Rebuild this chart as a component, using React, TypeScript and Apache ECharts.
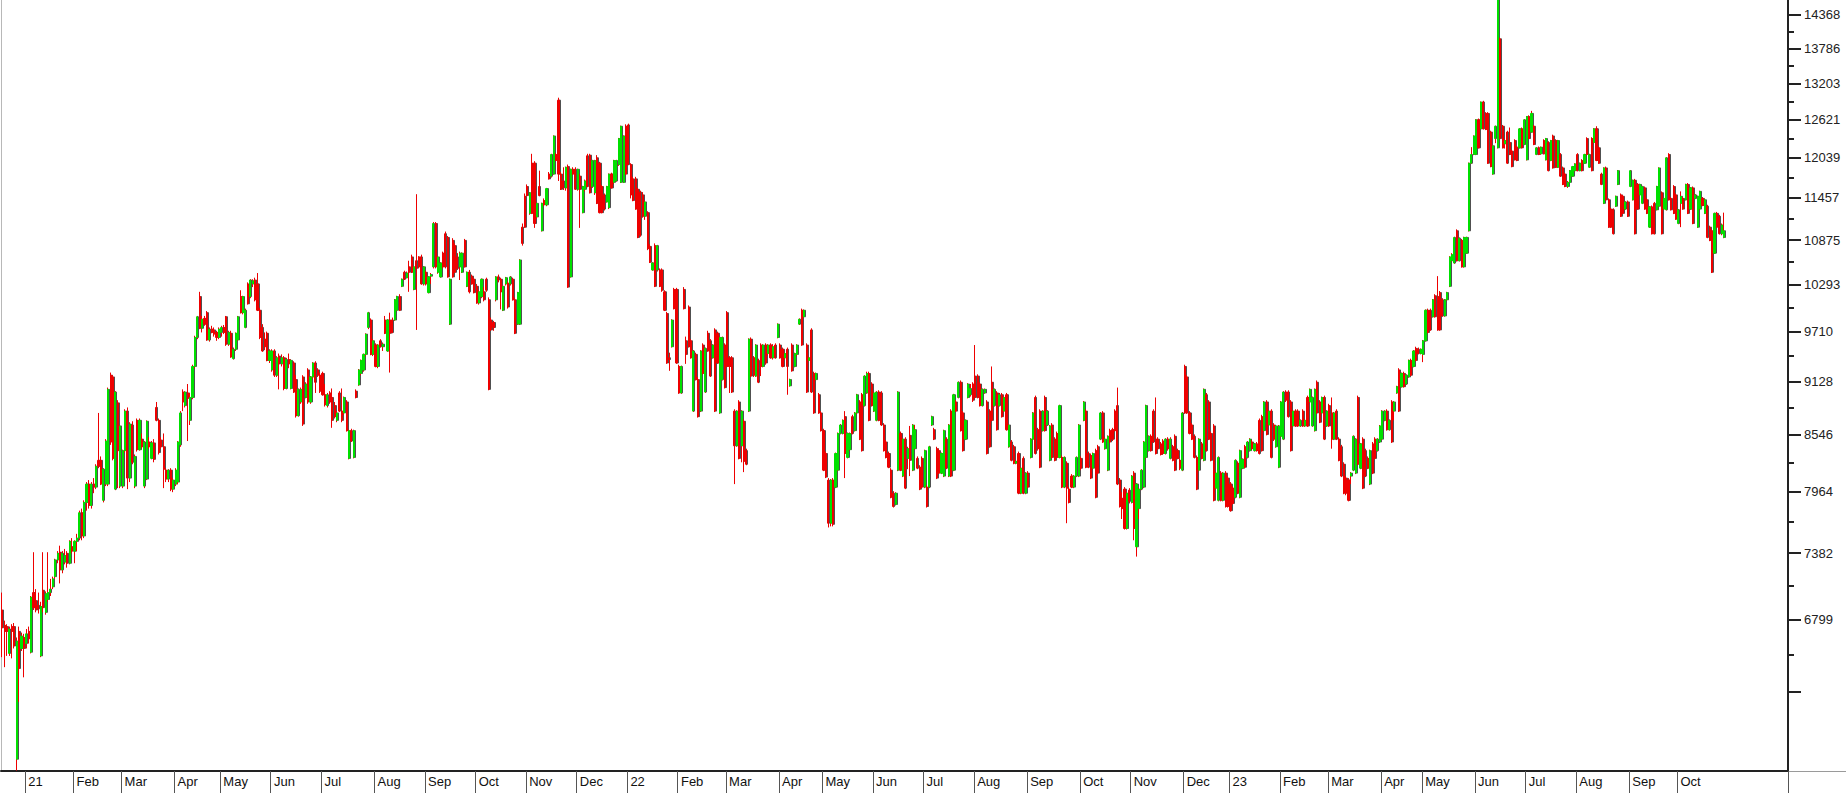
import React, { useEffect, useRef } from "react";
import * as echarts from "echarts";

// Daily candles, each row = [open, high, low, close]
const dec2020 = [[6880,7030,6490,6730],[6750,6790,6410,6700],[6740,6760,6500,6700],[6520,6740,6500,6720],[6740,6760,6480,6700],[6740,6770,6560,6580],[5720,6650,5640,6620],[6700,6740,6140,6400],[6560,6690,6540,6660],[6650,6680,6330,6560]];
const jan2021 = [[6600,6720,6560,6680],[6700,6740,6600,6640],[6530,7000,6520,6990],[7030,7390,6880,6900],[6960,7060,6860,6880],[6920,7030,6850,6890],[6500,6950,6490,6910],[7050,7390,6860,6900],[6860,7040,6840,7020],[6970,7390,6950,7030],[7030,7150,7000,7060],[7080,7170,7060,7150],[7170,7330,7150,7320],[7320,7400,7290,7380],[7390,7450,7110,7230],[7230,7400,7200,7380],[7300,7420,7280,7360],[7380,7400,7250,7290],[7290,7500,7280,7490],[7440,7520,7380,7400]];
const feb2021 = [[7400,7500,7290,7490],[7490,7560,7400,7520],[7520,7780,7500,7760],[7760,7800,7500,7540],[7540,7880,7520,7860],[7860,8060,7780,8040],[8040,8080,7800,7830],[7830,8060,7800,8040],[8040,8100,7950,8010],[8010,8240,7990,8220],[8280,8780,8200,8220],[8280,8320,8030,8040],[7880,8200,7860,8190],[8040,8500,8020,8480],[8040,9060,8020,9040],[9200,9230,8440,8470],[9180,9200,8280,8300],[7990,9020,7980,9010],[8890,8920,8000,8380],[8020,8650,8000,8640]];
const mar2021 = [[8020,8390,8000,8380],[8380,8820,8360,8800],[8800,8840,7990,8100],[8100,8680,8060,8660],[8650,8690,8240,8260],[8020,8340,8000,8320],[8700,8720,8370,8390],[8390,8720,8380,8700],[8500,8560,8400,8420],[8020,8480,8000,8470],[8090,8700,8080,8690],[8470,8520,8400,8420],[8300,8480,8290,8460],[8460,8500,8260,8290],[8840,8900,8690,8700],[8700,8720,8340,8360],[8490,8520,8400,8420],[8420,8560,8000,8190],[8180,8200,8060,8090],[8090,8190,8060,8180],[8180,8200,7970,7990],[7990,8100,7960,8080]];
const apr2021 = [[8040,8200,8020,8180],[8060,8480,8040,8470],[8440,8800,8420,8780],[9010,9040,8800,8900],[8860,9020,8840,9010],[9000,9100,8480,8940],[8700,9000,8650,8950],[8950,9320,8930,9300],[9300,9660,9280,9640],[9640,9900,9620,9890],[10140,10200,9740,9750],[9750,9900,9700,9860],[9870,9900,9780,9800],[9940,9960,9600,9610],[9610,9760,9590,9740],[9740,9780,9690,9700],[9730,9760,9650,9680],[9700,9720,9600,9640],[9640,9760,9620,9740]];
const may2021 = [[9700,9780,9650,9760],[9760,9790,9680,9700],[9890,9900,9540,9560],[9560,9720,9540,9700],[9690,9720,9400,9410],[9390,9520,9380,9500],[9500,9700,9480,9690],[9610,9900,9600,9890],[10140,10220,9930,9940],[9940,10150,9920,10140],[9760,9990,9750,9970],[10300,10320,10040,10050],[10140,10360,10120,10350],[10300,10360,10260,10340],[10350,10380,10080,10100],[10300,10440,9960,9970],[9970,10000,9620,9640],[9760,9800,9470,9480],[9620,9700,9490,9530],[9690,9710,9360,9370],[9370,9500,9340,9480]];
const jun2021 = [[9260,9500,9240,9480],[9480,9500,9180,9200],[9200,9420,9180,9400],[9420,9450,9040,9330],[9330,9440,9300,9400],[9400,9420,9030,9050],[9050,9400,9040,9380],[9380,9450,9280,9330],[9050,9380,9040,9370],[9340,9360,9000,9010],[9150,9200,8730,8750],[8750,9050,8740,9040],[8900,9060,8880,9040],[9180,9200,8640,8660],[8950,9120,8940,9100],[9260,9280,8880,8900],[8900,9190,8880,9180],[9180,9350,9160,9340],[9340,9360,9000,9120],[9260,9280,9180,9200],[9200,9230,9000,9020]];
const jul2021 = [[9220,9240,8970,8980],[8980,9100,8850,8870],[8860,9000,8840,8980],[9000,9020,8880,8900],[8950,9050,8620,8700],[8860,8900,8720,8740],[8700,8800,8680,8780],[9000,9020,8790,8800],[8800,9050,8680,8700],[8780,8960,8760,8950],[8900,8920,8580,8590],[8300,8600,8290,8590],[8590,8610,8470,8480],[8310,8600,8300,8590],[9020,9040,8940,8950],[9090,9270,9080,9260],[9220,9380,9200,9370],[9260,9450,9240,9440],[9440,9690,9420,9680],[9760,9950,9740,9940],[9850,9870,9430,9440],[9440,9620,9420,9600]];
const aug2021 = [[9550,9570,9290,9300],[9300,9560,9280,9550],[9600,9620,9520,9530],[9530,9580,9480,9560],[9850,9900,9680,9690],[9480,9860,9470,9850],[9850,9940,9230,9690],[9850,9880,9690,9700],[9850,10110,9840,10100],[9970,10150,9960,10140],[10140,10170,9960,9970],[10270,10370,10260,10360],[10450,10470,10350,10360],[10380,10460,10370,10440],[10520,10600,10200,10450],[10650,10680,10440,10450],[10230,10530,10220,10520],[10600,11510,9730,10500],[10650,10660,10500,10520],[10650,10680,10290,10300],[10300,10530,10280,10520]];
const sep2021 = [[10450,10470,10280,10300],[10190,10400,10180,10390],[10400,10440,10300,10420],[10520,11120,10500,11100],[11100,11120,10500,10520],[10450,10660,10430,10650],[10390,10580,10380,10570],[10700,10720,10500,10520],[10960,10990,10500,10520],[10910,10930,10380,10390],[9800,10370,9790,10360],[10870,10900,10380,10390],[10800,10830,10440,10450],[10650,10700,10480,10500],[10520,10720,10350,10700],[10450,10710,10440,10700],[10870,10890,10510,10520],[10270,10460,10260,10450],[10450,10480,10180,10200],[10400,10420,10290,10300],[10360,10380,10180,10190]];
const oct2021 = [[10270,10300,10050,10060],[10060,10220,10040,10200],[10140,10370,10120,10360],[10200,10260,10080,10100],[10360,10380,10200,10220],[10100,10130,9030,9040],[9850,9880,9720,9730],[9820,9840,9720,9760],[10100,10400,10080,10390],[10390,10420,10320,10350],[10360,10380,9980,10200],[9970,10280,9960,10270],[10300,10390,10280,10380],[10310,10330,9990,10010],[10300,10400,10280,10390],[10360,10380,10090,10100],[10100,10130,9680,9690],[9800,10200,9790,10190],[9800,10620,9790,10610],[11050,11100,10800,10830],[11480,11520,11040,11050]];
const nov2021 = [[11620,11650,11480,11490],[11240,11540,11220,11530],[11960,12100,11230,11240],[11960,11990,11040,11100],[11190,11390,11170,11380],[11620,11850,11480,11490],[11000,11390,10990,11380],[11420,11450,11340,11360],[11360,11600,11340,11590],[11800,11830,11720,11730],[11770,12100,11750,12090],[11800,12380,11790,12370],[12090,12110,11990,12000],[12930,12970,11700,11800],[11800,11830,11570,11580],[11700,11900,11570,11600],[11600,11910,11560,11900],[11910,11940,10250,10260],[10390,11880,10380,11870],[11870,11900,11790,11800],[11870,11900,11570,11580]];
const dec2021 = [[11580,11880,11560,11870],[11770,11800,11040,11580],[11250,11630,11240,11620],[11580,11720,11550,11700],[12070,12100,11610,11620],[12080,12100,11520,11530],[11620,12010,11600,12000],[11530,12010,11500,12000],[12040,12080,11370,11380],[11960,11980,11240,11250],[11620,11640,11240,11250],[11500,11520,11280,11300],[11400,11630,11390,11620],[11320,11810,11300,11800],[11800,11820,11590,11600],[11680,12010,11660,12000],[11700,12010,11690,12000],[11940,12340,11920,12330],[11680,12530,11670,12520],[11680,12380,11670,12370],[12520,12550,11790,11800]];
const jan2022 = [[12540,12560,11930,11940],[11940,11960,11450,11500],[11730,11760,11410,11420],[11730,11760,11290,11300],[11580,11600,10900,10910],[11540,11560,10920,10940],[11500,11540,11180,11200],[11200,11420,11150,11400],[11250,11270,10740,10760],[10790,10820,10570,10580],[10480,10580,10470,10570],[10800,10830,10260,10270],[10480,10810,10460,10800],[10480,10500,10260,10270],[10480,10500,10200,10220],[10200,10220,9960,9970],[9930,9950,9330,9340],[9400,9460,9250,9380],[9530,9860,9520,9850],[10230,10250,9980,9990],[10230,10250,9330,9340]];
const feb2022 = [[9300,9320,8990,9000],[9000,9310,8990,9300],[10230,10260,9980,9990],[9600,9650,9330,9440],[10010,10030,9520,9530],[9600,9620,9390,9400],[8800,9490,8790,9480],[9440,9460,9140,9150],[9150,9180,8730,8740],[8800,9490,8790,9480],[9550,9570,9210,9220],[9010,9520,9000,9510],[9690,9720,9470,9480],[9600,9620,9180,9190],[9400,9560,9390,9550],[9730,9750,8790,8800],[9690,9710,9330,9340],[8780,9650,8770,9640],[9150,9650,9140,9640],[9550,9570,9050,9060]];
const mar2022 = [[9940,9960,9290,9300],[9400,9420,9000,9300],[9400,9420,9000,9010],[8800,8820,8040,8430],[8430,8810,8420,8800],[8900,8920,8290,8300],[8430,8810,8260,8800],[8690,8710,8160,8270],[8380,8400,8230,8240],[8800,9630,8790,9620],[9620,9640,9180,9190],[9400,9420,9180,9200],[9190,9560,9180,9550],[9370,9390,9110,9120],[9550,9570,9190,9300],[9300,9560,9290,9550],[9550,9570,9320,9340],[9450,9560,9430,9550],[9550,9570,9390,9400],[9400,9560,9380,9530],[9550,9570,9390,9400],[9640,9810,9630,9800]];
const apr2022 = [[9550,9570,9390,9400],[9500,9520,9290,9300],[9400,9460,9380,9450],[9500,9520,8980,9300],[9080,9160,9070,9150],[9550,9570,9240,9250],[9300,9460,9290,9450],[9440,9560,9420,9550],[9800,9870,9790,9860],[9970,9990,9540,9550],[9890,9980,9880,9970],[9550,9570,9000,9010],[9370,9410,9360,9400],[9730,9750,9000,9010],[9220,9240,8770,8780],[9150,9230,9140,9220],[8980,9000,8770,8780],[8780,8800,8580,8590]];
const may2022 = [[8590,8610,8170,8180],[8350,8370,8100,8110],[8080,8100,7620,7660],[7660,8090,7630,8080],[8080,8100,7630,7650],[8010,8360,8000,8350],[8180,8570,8170,8560],[8560,8660,8550,8650],[8560,8710,8550,8700],[8740,8800,8100,8350],[8310,8570,8300,8560],[8390,8570,8380,8560],[8740,8760,8550,8560],[8590,8790,8580,8780],[8780,8990,8770,8980],[8900,8920,8490,8500],[8980,9000,8370,8380],[8860,9200,8850,9190],[9000,9240,8990,9220],[9220,9240,8690,8700],[9100,9120,8850,8860]];
const jun2022 = [[8800,9010,8790,9000],[8700,9020,8690,9010],[9010,9030,8690,8700],[9000,9020,8640,8650],[8650,8670,8370,8380],[8470,8490,8300,8310],[8350,8370,8200,8210],[8180,8200,7900,7910],[7950,7970,7810,7820],[7840,7960,7830,7950],[8180,9020,8170,9010],[8560,8580,8170,8180],[8120,8510,8110,8500],[8500,8520,7990,8000],[8300,8420,8190,8400],[8540,8640,8120,8280],[8180,8660,8170,8650],[8400,8650,8390,8600],[8300,8320,8190,8200],[8210,8230,7980,7990],[8300,8320,8000,8010]];
const jul2022 = [[8010,8390,8000,8380],[8010,8030,7810,7820],[8010,8430,8000,8420],[8650,8750,8640,8740],[8600,8620,8490,8500],[8400,8420,8090,8100],[8380,8400,8140,8150],[8150,8360,8140,8350],[8120,8600,8110,8590],[8500,8520,8190,8200],[8120,8660,8110,8650],[8800,8820,8110,8120],[8180,8990,8170,8980],[8900,8920,8790,8800],[8950,9130,8940,9120],[9120,9140,8580,8590],[8780,8800,8370,8380],[8500,8710,8490,8700],[8950,9110,8940,9100],[8980,9100,8960,9050],[9100,9120,8900,8920]];
const aug2022 = [[9190,9550,8940,8950],[9190,9210,8940,8950],[9100,9120,8850,8860],[8860,9050,8850,9040],[9000,9050,8990,9040],[8900,8920,8340,8350],[8800,8820,8410,8420],[9120,9300,8690,8700],[8860,9050,8850,9040],[9000,9020,8590,8600],[8860,9000,8850,8980],[8980,9000,8730,8740],[8800,8960,8790,8950],[8980,9000,8590,8600],[8420,8660,8410,8650],[8470,8490,8270,8280],[8420,8440,8240,8250],[8250,8280,8240,8270],[8350,8370,7940,7950],[7950,8210,7940,8200],[8300,8320,7940,7950],[7950,8160,7940,8150]];
const sep2022 = [[8150,8170,8000,8010],[8310,8510,8300,8500],[8500,8790,8490,8780],[8950,8970,8340,8350],[8600,8620,8380,8400],[8800,8820,8200,8210],[8590,8810,8580,8800],[8950,8970,8580,8590],[8650,8810,8640,8800],[8280,8650,8270,8640],[8650,8670,8300,8310],[8500,8520,8270,8280],[8560,8580,8300,8310],[8310,8870,8300,8860],[8310,8330,8000,8010],[8010,8320,8000,8310],[8250,8270,7660,8000],[7990,8010,7850,7860],[8120,8140,8000,8010],[8010,8130,8000,8120],[8120,8320,8110,8310],[8120,8660,8110,8650]];
const oct2022 = [[8300,8320,8180,8200],[8700,8910,8690,8900],[8800,8820,8200,8210],[8350,8370,8200,8210],[8330,8350,8090,8100],[8200,8360,8190,8350],[8380,8400,7900,7910],[8420,8440,8140,8150],[8500,8790,8490,8780],[8780,8800,8460,8470],[8400,8520,8390,8500],[8180,8540,8170,8530],[8590,8610,8460,8470],[8600,8620,8480,8500],[8800,8820,8580,8590],[8860,9060,8030,8040],[8080,8100,7810,7820],[7900,7960,7700,7800],[7990,8010,7600,7610],[7610,7960,7600,7950],[7980,8000,7850,7870]];
const nov2022 = [[7860,8130,7850,8120],[8150,8170,7500,7610],[7440,8050,7350,8040],[7800,8000,7700,7990],[7990,8190,7980,8180],[8010,8480,8000,8470],[8310,8870,8300,8860],[8380,8540,8370,8530],[8530,8550,8370,8380],[8800,8820,8460,8470],[8500,8950,8340,8350],[8500,8520,8390,8400],[8450,8470,8330,8340],[8480,8500,8340,8350],[8350,8510,8340,8500],[8500,8520,8380,8400],[8300,8520,8290,8500],[8420,8440,8270,8280],[8530,8550,8170,8180],[8380,8400,8290,8300],[8280,8300,8180,8200],[8180,8790,8170,8780]];
const dec2022 = [[9300,9320,8770,8780],[9180,9200,8770,8780],[8780,8800,8550,8560],[8650,8670,8490,8500],[8530,8550,8300,8310],[8310,8330,7980,7990],[8180,8510,8170,8500],[8450,8470,8290,8300],[8280,9050,8270,9040],[8980,9000,8370,8380],[8900,8920,8490,8500],[8560,8580,8270,8280],[8640,8660,7870,7880],[8000,8160,7990,8150],[7880,8320,7870,8310],[8150,8170,7870,7880],[7880,8160,7870,8150],[8150,8170,7810,7820],[8100,8120,7810,7820]];
const jan2023 = [[8040,8060,7770,7780],[8000,8020,7840,7850],[7910,8290,7900,8280],[8250,8270,7940,7950],[7910,8390,7900,8380],[8200,8300,8190,8290],[8420,8440,8200,8210],[8310,8480,8300,8470],[8380,8510,8370,8500],[8470,8490,8390,8400],[8380,8460,8370,8450],[8450,8470,8370,8380],[8700,8720,8340,8350],[8740,8760,8370,8380],[8590,8910,8580,8900],[8900,8920,8540,8550],[8650,8810,8640,8800],[8800,8820,8300,8310],[8650,8670,8480,8500],[8420,8650,8410,8640],[8210,8650,8200,8640]];
const feb2023 = [[8530,8910,8520,8900],[8500,9020,8490,9010],[9010,9030,8900,8920],[9010,9030,8730,8740],[8900,8920,8370,8380],[8640,8810,8630,8800],[8800,8820,8630,8640],[8800,8820,8630,8640],[8640,8710,8630,8700],[8800,8820,8630,8640],[8640,8710,8630,8700],[8950,8970,8630,8640],[8900,9050,8890,9040],[8640,8960,8630,8950],[8590,9050,8580,9040],[9120,9140,8770,8780],[8900,8920,8670,8680],[8780,8960,8770,8950],[8950,8970,8490,8500],[8640,8810,8630,8800]];
const mar2023 = [[8860,8880,8630,8640],[8780,8950,8400,8500],[8500,8790,8490,8780],[8800,8820,8490,8500],[8500,8520,8270,8280],[8420,8440,8110,8120],[8240,8260,7940,7950],[8100,8120,7930,7950],[8080,8100,7870,7880],[8120,8160,8040,8150],[8180,8540,8170,8530],[8150,8510,8140,8500],[8950,8970,8230,8240],[8200,8460,8190,8450],[8500,8520,7990,8000],[8380,8400,8110,8120],[8300,8320,8190,8200],[8040,8390,8030,8380],[8450,8470,8140,8150],[8500,8520,8290,8300],[8380,8510,8370,8500],[8470,8650,8460,8640]];
const apr2023 = [[8500,8810,8490,8800],[8700,8810,8690,8800],[8800,8820,8590,8600],[8600,8710,8590,8700],[8900,8920,8460,8470],[8800,8910,8700,8900],[9000,9080,8990,9070],[9260,9280,8790,8800],[9070,9230,9060,9220],[9220,9240,9060,9070],[9100,9210,9090,9200],[9180,9380,9170,9370],[9370,9390,9190,9200],[9300,9490,9290,9480],[9510,9530,9360,9370],[9500,9520,9440,9450],[9450,9510,9440,9500]];
const may2023 = [[9440,9610,9350,9600],[9600,9980,9590,9970],[9970,9990,9690,9700],[9970,9990,9720,9730],[9890,10110,9880,10100],[10150,10170,9880,9890],[10140,10400,9720,9730],[10190,10210,9720,9730],[10100,10120,9890,9900],[9900,10110,9890,10100],[10100,10200,10090,10190],[10270,10660,10260,10650],[10600,10700,10590,10680],[10570,10920,10560,10910],[11000,11020,10590,10600],[10600,10910,10590,10900],[10870,10890,10510,10520],[10520,10920,10510,10910],[10700,10920,10690,10910],[11000,11970,10990,11960],[11960,12200,11950,12090],[12090,12380,12080,12370]];
const jun2023 = [[12090,12630,12080,12620],[12620,12640,12180,12190],[12480,12910,12470,12900],[12900,12920,12470,12480],[12720,12740,12460,12470],[12720,12740,11950,11960],[12430,12450,11900,11910],[11800,12230,11790,12220],[12330,12530,12260,12520],[12190,14700,12180,14650],[13950,13970,12320,12330],[12520,12540,12180,12190],[12250,12320,12180,12300],[12430,12450,11950,11960],[12270,12500,12080,12090],[12140,12160,11900,11910],[12300,12320,12000,12010],[12200,12220,11990,12000],[12190,12490,12180,12480],[12480,12500,12180,12190],[12240,12630,12230,12620]];
const jul2023 = [[12010,12680,12000,12670],[12670,12690,12320,12330],[12430,12760,12420,12720],[12520,12540,12230,12240],[12090,12200,12080,12190],[12190,12210,12080,12090],[12100,12210,12090,12200],[12300,12320,12090,12100],[12010,12340,12000,12330],[12270,12290,11840,11850],[12000,12310,11990,12300],[12370,12390,11880,11890],[12300,12320,11890,11900],[11900,12310,11890,12300],[12090,12110,11760,11770],[11890,11910,11640,11650],[11800,11820,11610,11620],[11620,11700,11600,11680],[11680,11860,11670,11850],[11770,11920,11760,11910],[11850,11960,11840,11950]];
const aug2023 = [[12090,12110,11840,11850],[11850,11970,11840,11960],[12000,12020,11840,11850],[11960,12100,11950,12090],[12330,12350,12080,12090],[11900,12100,11890,12090],[12330,12350,11840,11850],[12270,12490,12260,12480],[12480,12520,11990,12000],[12190,12210,11950,11960],[11800,11820,11640,11650],[11380,11900,11370,11890],[11890,11910,11420,11430],[11430,11450,11040,11050],[11300,11320,11040,11050],[11290,11310,10950,10960],[11340,11490,11330,11480],[11650,11860,11640,11850],[11500,11520,11190,11200],[11480,11500,11230,11240],[11300,11410,11290,11400],[11400,11420,11190,11200]];
const sep2023 = [[11620,11860,11610,11850],[11430,11720,11420,11710],[11710,11730,10950,10960],[11650,11670,11290,11300],[11500,11660,11490,11650],[11380,11630,11370,11620],[11600,11620,11290,11300],[11430,11450,11230,11240],[11050,11340,11040,11330],[11330,11350,10950,10960],[11380,11400,10950,10960],[11290,11630,11280,11620],[11340,11900,11330,11890],[11530,11550,10950,10960],[11300,11460,11290,11450],[11290,12050,11280,12040],[12090,12110,11420,11430],[11450,11470,11280,11290],[11620,11640,11230,11240],[11500,11520,11150,11160]];
const oct2023 = [[11100,11300,11090,11290],[11380,11550,11050,11480],[11450,11470,11290,11300],[11430,11660,11420,11650],[11650,11670,11230,11240],[11300,11610,11290,11600],[11600,11620,11090,11100],[11450,11510,11440,11500],[11050,11490,11040,11480],[11300,11560,11290,11550],[11450,11470,11340,11350],[11240,11440,11230,11430],[11340,11360,10900,10910],[11050,11070,10860,10870],[11000,11020,10440,10450],[10700,11250,10690,11240],[11240,11260,11040,11050],[11200,11220,10950,10960],[10960,11100,10940,11080],[10910,11250,10900,11000]];

const monthBlocks: Array<[string, number[][]]> = [
  ["2020-12", dec2020],
  ["2021-01", jan2021], ["2021-02", feb2021], ["2021-03", mar2021], ["2021-04", apr2021],
  ["2021-05", may2021], ["2021-06", jun2021], ["2021-07", jul2021], ["2021-08", aug2021],
  ["2021-09", sep2021], ["2021-10", oct2021], ["2021-11", nov2021], ["2021-12", dec2021],
  ["2022-01", jan2022], ["2022-02", feb2022], ["2022-03", mar2022], ["2022-04", apr2022],
  ["2022-05", may2022], ["2022-06", jun2022], ["2022-07", jul2022], ["2022-08", aug2022],
  ["2022-09", sep2022], ["2022-10", oct2022], ["2022-11", nov2022], ["2022-12", dec2022],
  ["2023-01", jan2023], ["2023-02", feb2023], ["2023-03", mar2023], ["2023-04", apr2023],
  ["2023-05", may2023], ["2023-06", jun2023], ["2023-07", jul2023], ["2023-08", aug2023],
  ["2023-09", sep2023], ["2023-10", oct2023],
];

const MONTH_NAMES = ["Jan", "Feb", "Mar", "Apr", "May", "Jun", "Jul", "Aug", "Sep", "Oct", "Nov", "Dec"];
const labelledTicks = [14368, 13786, 13203, 12621, 12039, 11457, 10875, 10293, 9710, 9128, 8546, 7964, 7382, 6799];
const unlabelledTicks = [6217];
const AXIS_TOP = 14637;
const AXIS_BOTTOM = 5637;
const EMPTY_SLOTS = 26;

const GREEN = "#00e000";
const RED = "#ee0000";
const SHADE = "#505050";
const FONT = "'Liberation Sans', Arial, sans-serif";

export default function App() {
  const ref = useRef<HTMLDivElement>(null);

  useEffect(() => {
    if (!ref.current) return;
    const chart = echarts.init(ref.current, null, { renderer: "svg" });
    const ln = Math.log;

    const categories: string[] = [];
    const monthLabel: Record<number, string> = {};
    const wickData: number[][] = [];
    const bodyData: number[][] = [];
    monthBlocks.forEach(([key, rows], b) => {
      const [yy, mm] = key.split("-");
      const m = Number(mm);
      if (b > 0) monthLabel[categories.length] = m === 1 ? yy.slice(2) : MONTH_NAMES[m - 1];
      rows.forEach(([o, h, l, c], d) => {
        categories.push(`${key}-${d + 1}`);
        wickData.push([ln(o), ln(c), ln(l), ln(h)]);
        bodyData.push([ln(o), ln(c), ln(Math.min(o, c)), ln(Math.max(o, c))]);
      });
    });
    for (let i = 0; i < EMPTY_SLOTS; i++) categories.push(`empty-${i}`);

    const majors = [...unlabelledTicks, ...labelledTicks].sort((a, b) => a - b);
    const minors = majors.slice(1).map((v, i) => (v + majors[i]) / 2);
    const isMonthStart = (i: number) => monthLabel[i] !== undefined;

    const yRange = { min: ln(AXIS_BOTTOM), max: ln(AXIS_TOP) };

    chart.setOption({
      animation: false,
      backgroundColor: "#ffffff",
      grid: [
        { left: 1, right: 58, top: 0, bottom: 22, containLabel: false, outerBoundsMode: "none" },
        // same plot shifted one pixel right: carries the grey right-hand shade of each body
        { left: 2, right: 57, top: 0, bottom: 22, containLabel: false, outerBoundsMode: "none" },
      ],
      xAxis: [
        {
          type: "category",
          gridIndex: 0,
          data: categories,
          boundaryGap: true,
          axisLine: { show: true, onZero: false, lineStyle: { color: "#222", width: 2 } },
          axisTick: {
            show: true,
            interval: (i: number) => isMonthStart(i),
            length: 22,
            lineStyle: { color: "#555", width: 1 },
          },
          axisLabel: {
            interval: (i: number) => isMonthStart(i),
            formatter: (_v: string, i: number) => monthLabel[i] ?? "",
            align: "left",
            margin: 4,
            padding: [0, 0, 0, 2],
            fontSize: 13,
            color: "#111",
            fontFamily: FONT,
          },
          splitLine: { show: false },
        },
        {
          type: "category",
          gridIndex: 1,
          data: categories,
          boundaryGap: true,
          show: false,
        },
      ],
      yAxis: [
        {
          type: "value",
          gridIndex: 0,
          position: "right",
          ...yRange,
          axisLine: { show: true, lineStyle: { color: "#222", width: 2 } },
          axisTick: {
            show: true,
            length: 13,
            customValues: majors.map(ln),
            lineStyle: { color: "#222", width: 2 },
          },
          axisLabel: {
            show: true,
            customValues: labelledTicks.map(ln),
            formatter: (v: number) => String(Math.round(Math.exp(v))),
            margin: 16,
            fontSize: 13,
            color: "#222",
            fontFamily: FONT,
          },
          splitLine: { show: false },
        },
        {
          type: "value",
          gridIndex: 0,
          position: "right",
          ...yRange,
          axisLine: { show: false },
          axisTick: {
            show: true,
            length: 6,
            customValues: minors.map(ln),
            lineStyle: { color: "#222", width: 2 },
          },
          axisLabel: { show: false },
          splitLine: { show: false },
        },
        {
          type: "value",
          gridIndex: 0,
          position: "left",
          ...yRange,
          axisLine: { show: true, lineStyle: { color: "#b8b8b8", width: 1 } },
          axisTick: { show: false },
          axisLabel: { show: false },
          splitLine: { show: false },
        },
        {
          type: "value",
          gridIndex: 1,
          ...yRange,
          show: false,
        },
      ],
      graphic: [
        { type: "rect", right: 0, bottom: 21, shape: { width: 58, height: 1 }, style: { fill: "#9a9a9a" } },
      ],
      series: [
        {
          name: "shade",
          type: "candlestick",
          data: bodyData,
          xAxisIndex: 1,
          yAxisIndex: 3,
          large: false,
          barWidth: 1.6,
          silent: true,
          itemStyle: {
            color: SHADE,
            color0: SHADE,
            borderColor: SHADE,
            borderColor0: SHADE,
            borderColorDoji: SHADE,
            borderWidth: 1,
          },
        },
        {
          name: "wicks",
          type: "candlestick",
          data: wickData,
          xAxisIndex: 0,
          yAxisIndex: 0,
          large: false,
          barWidth: 1,
          silent: true,
          itemStyle: {
            color: RED,
            color0: RED,
            borderColor: RED,
            borderColor0: RED,
            borderColorDoji: RED,
            borderWidth: 1,
          },
        },
        {
          name: "bodies",
          type: "candlestick",
          data: bodyData,
          xAxisIndex: 0,
          yAxisIndex: 0,
          large: false,
          barWidth: 1.6,
          silent: true,
          itemStyle: {
            color: GREEN,
            color0: RED,
            borderColor: GREEN,
            borderColor0: RED,
            borderColorDoji: RED,
            borderWidth: 1,
          },
        },
      ],
    });

    return () => chart.dispose();
  }, []);

  return (
    <div
      ref={ref}
      style={{ position: "fixed", left: 0, top: 0, width: 1846, height: 793, background: "#ffffff" }}
    />
  );
}
